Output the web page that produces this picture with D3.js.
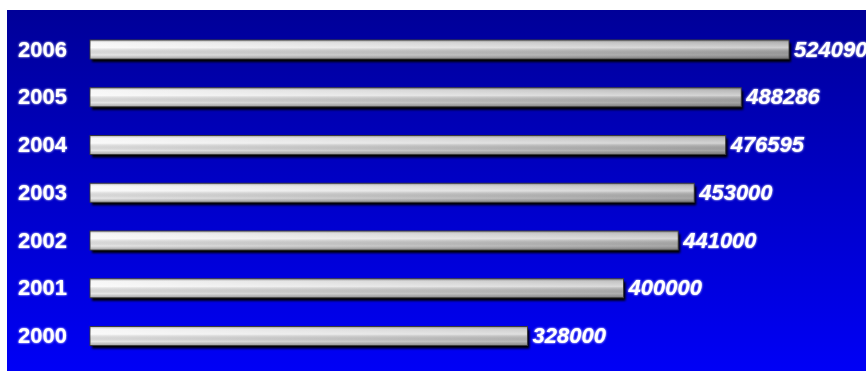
<!DOCTYPE html>
<html>
<head>
<meta charset="utf-8">
<script src="https://cdn.jsdelivr.net/npm/d3@7"></script>
<style>
  html, body { margin: 0; padding: 0; background: #fff; }
  svg { display: block; }
  .label { font-family: Arial, "Liberation Sans", sans-serif; font-weight: bold; fill: #fff; font-size: 22px; }
  .value { font-style: italic; }
</style>
</head>
<body>
<div id="chart"></div>
<script>
// chart data
const years = ['2006', '2005', '2004', '2003', '2002', '2001', '2000'];
const values = [524090, 488286, 476595, 453000, 441000, 400000, 328000];

const width = 866;
const height = 371;

const svg = d3.select('#chart')
    .append('svg')
    .attr('width', width)
    .attr('height', height);

const defs = svg.append('defs');

// blue background, dark at the top
const bg = defs.append('linearGradient')
    .attr('id', 'bg')
    .attr('x1', 0).attr('y1', 0).attr('x2', 0).attr('y2', 1);
bg.append('stop').attr('offset', '0%').attr('stop-color', '#000098');
bg.append('stop').attr('offset', '100%').attr('stop-color', '#0000f6');

// bar colour: light on the left, grey on the right
const barH = defs.append('linearGradient')
    .attr('id', 'barH')
    .attr('gradientUnits', 'userSpaceOnUse')
    .attr('x1', 90).attr('x2', 789).attr('y1', 0).attr('y2', 0);
barH.append('stop').attr('offset', '0%').attr('stop-color', '#f6f6f6');
barH.append('stop').attr('offset', '100%').attr('stop-color', '#a8a8a8');

// tube shading across each bar
const barV = defs.append('linearGradient')
    .attr('id', 'barV')
    .attr('x1', 0).attr('y1', 0).attr('x2', 0).attr('y2', 1);
barV.append('stop').attr('offset', '0%').attr('stop-color', '#000').attr('stop-opacity', 0.25);
barV.append('stop').attr('offset', '12%').attr('stop-color', '#fff').attr('stop-opacity', 0.15);
barV.append('stop').attr('offset', '40%').attr('stop-color', '#fff').attr('stop-opacity', 0.45);
barV.append('stop').attr('offset', '80%').attr('stop-color', '#000').attr('stop-opacity', 0.06);
barV.append('stop').attr('offset', '100%').attr('stop-color', '#000').attr('stop-opacity', 0.3);

const glow = defs.append('filter').attr('id', 'glow')
    .attr('x', '-10%').attr('y', '-30%').attr('width', '120%').attr('height', '160%');
glow.append('feGaussianBlur').attr('in', 'SourceGraphic').attr('stdDeviation', 1.1).attr('result', 'b');
const merge = glow.append('feMerge');
merge.append('feMergeNode').attr('in', 'b');
merge.append('feMergeNode').attr('in', 'SourceGraphic');

const shadow = defs.append('filter').attr('id', 'shadow');
shadow.append('feGaussianBlur').attr('stdDeviation', 0.8);

svg.append('rect')
    .attr('x', 7).attr('y', 10)
    .attr('width', width - 7).attr('height', height - 10)
    .attr('fill', 'url(#bg)');

const x = d3.scaleLinear()
    .domain([0, d3.max(values)])
    .range([90, 789]);

const y = d3.scalePoint()
    .domain(years)
    .range([49.5, 336]);

const barHeight = 19;
const rows = years.map((yr, i) => ({ year: yr, value: values[i] }));

const g = svg.selectAll('.row')
    .data(rows)
    .enter()
    .append('g')
    .attr('class', 'row');

// drop shadow
g.append('rect')
    .attr('x', x(0) + 2)
    .attr('y', d => y(d.year) - barHeight / 2 + 3)
    .attr('width', d => x(d.value) - x(0))
    .attr('height', barHeight)
    .attr('fill', '#000')
    .attr('filter', 'url(#shadow)');

g.append('rect')
    .attr('x', x(0))
    .attr('y', d => y(d.year) - barHeight / 2)
    .attr('width', d => x(d.value) - x(0))
    .attr('height', barHeight)
    .attr('fill', 'url(#barH)')
    .attr('stroke', '#3a3a3a')
    .attr('stroke-width', 1);

g.append('rect')
    .attr('x', x(0) + 0.5)
    .attr('y', d => y(d.year) - barHeight / 2 + 0.5)
    .attr('width', d => x(d.value) - x(0) - 1)
    .attr('height', barHeight - 1)
    .attr('fill', 'url(#barV)');

g.append('text')
    .attr('class', 'label')
    .attr('x', 18)
    .attr('y', d => y(d.year) + 7)
    .attr('filter', 'url(#glow)')
    .text(d => d.year);

g.append('text')
    .attr('class', 'label value')
    .attr('x', d => x(d.value) + 5)
    .attr('y', d => y(d.year) + 7)
    .attr('filter', 'url(#glow)')
    .text(d => d.value);
</script>
</body>
</html>
